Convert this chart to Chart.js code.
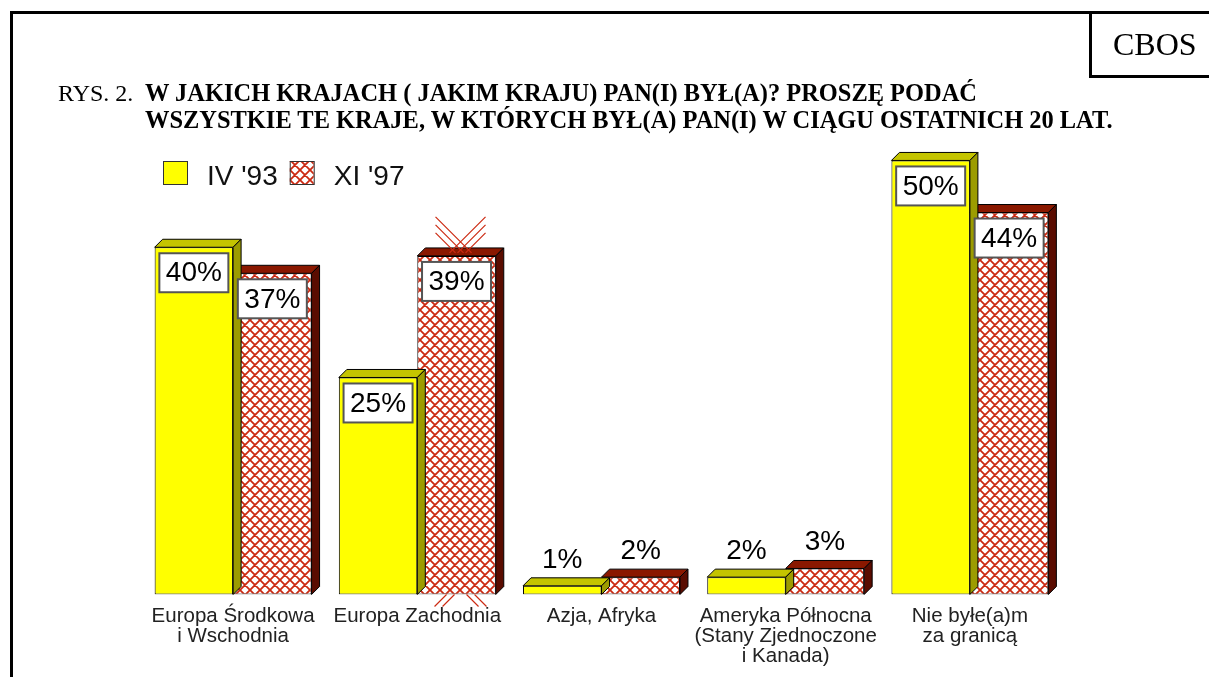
<!DOCTYPE html>
<html lang="pl">
<head>
<meta charset="utf-8">
<title>CBOS - Rys. 2</title>
<script src="https://cdn.jsdelivr.net/npm/chart.js@4.4.1/dist/chart.umd.min.js"></script>
<style>
  html, body { margin: 0; padding: 0; background: #fff; }
  #wrap { position: relative; width: 1209px; height: 677px; overflow: hidden; }
  #wrap canvas { position: absolute; left: 0; top: 0; }
  .line { position: absolute; background: #000; }
  .serif { position: absolute; font-family: "Liberation Serif", "Times New Roman", serif; color: #000; white-space: nowrap; }
</style>
</head>
<body>
<div id="wrap">
  <canvas id="wykres" width="1209" height="677"></canvas>
  <!-- ramka -->
  <div class="line" style="left:10px; top:11px; width:1199px; height:2.5px"></div>
  <div class="line" style="left:10px; top:11px; width:2.5px; height:666px"></div>
  <div class="line" style="left:1089px; top:11px; width:2.5px; height:66px"></div>
  <div class="line" style="left:1089px; top:75px; width:120px; height:2.5px"></div>
  <div class="serif" style="left:1113px; top:28px; font-size:32px; line-height:32px">CBOS</div>
  <div class="serif" style="left:58px; top:81px; font-size:24px; line-height:24px">RYS. 2.</div>
  <div class="serif" style="left:145px; top:79px; font-size:24.45px; line-height:27px; font-weight:bold">W JAKICH KRAJACH ( JAKIM KRAJU) PAN(I) BYŁ(A)? PROSZĘ PODAĆ<br>WSZYSTKIE TE KRAJE, W KTÓRYCH BYŁ(A) PAN(I) W CIĄGU OSTATNICH 20 LAT.</div>
</div>
<script>
// dane
const kategorie = [
  ['Europa Środkowa', 'i Wschodnia'],
  'Europa Zachodnia',
  'Azja, Afryka',
  ['Ameryka Północna', '(Stany Zjednoczone', 'i Kanada)'],
  ['Nie byłe(a)m', 'za granicą']
];
const serie = ["IV '93", "XI '97"];
const wartosci93 = [40, 25, 1, 2, 50];
const wartosci97 = [37, 39, 2, 3, 44];

const FONT = '"Liberation Sans", Arial, sans-serif';
const GLEBOKOSC = 8; // glebokosc efektu 3D
const KRESKA = '#cc2a12';

// kratka (wzor dla XI '97)
function kratka() {
  const c = document.createElement('canvas');
  c.width = 10; c.height = 10;
  const g = c.getContext('2d');
  g.fillStyle = '#fff';
  g.fillRect(0, 0, 10, 10);
  g.strokeStyle = KRESKA;
  g.lineWidth = 1.8;
  g.beginPath();
  g.moveTo(-2, -2); g.lineTo(12, 12);
  g.moveTo(12, -2); g.lineTo(-2, 12);
  g.moveTo(-2, 8); g.lineTo(2, 12);
  g.moveTo(8, -2); g.lineTo(12, 2);
  g.moveTo(-2, 2); g.lineTo(2, -2);
  g.moveTo(8, 12); g.lineTo(12, 8);
  g.stroke();
  return g.createPattern(c, 'repeat');
}

const sciany = [
  { gora: '#c4c400', bok: '#9c9c00' },
  { gora: '#8a1800', bok: '#5a0c00' }
];

// gorna i boczna sciana slupka
const bryla = {
  id: 'bryla',
  afterDatasetDraw(chart, args) {
    const ctx = chart.ctx;
    const kol = sciany[args.index];
    const d = GLEBOKOSC;
    ctx.save();
    ctx.strokeStyle = '#000';
    ctx.lineWidth = 1;
    args.meta.data.forEach(bar => {
      const l = bar.x - bar.width / 2, r = bar.x + bar.width / 2, t = bar.y, b = bar.base;
      ctx.beginPath();
      ctx.moveTo(l, t); ctx.lineTo(l + d, t - d); ctx.lineTo(r + d, t - d); ctx.lineTo(r, t);
      ctx.closePath();
      ctx.fillStyle = kol.gora; ctx.fill(); ctx.stroke();
      ctx.beginPath();
      ctx.moveTo(r, t); ctx.lineTo(r + d, t - d); ctx.lineTo(r + d, b - d); ctx.lineTo(r, b);
      ctx.closePath();
      ctx.fillStyle = kol.bok; ctx.fill(); ctx.stroke();
    });
    // slad wzoru wystajacy poza slupek (jak w oryginale, przy 39%)
    if (args.index === 1) {
      const bar = args.meta.data[1];
      const cx = bar.x + d / 2, t = bar.y, b = bar.base;
      ctx.strokeStyle = KRESKA;
      ctx.lineWidth = 1.2;
      ctx.beginPath();
      for (let k = 0; k < 3; k++) {
        const y0 = t - 39 + 8 * k, len = 36 - 8 * k;
        ctx.moveTo(cx - 25, y0); ctx.lineTo(cx - 25 + len, y0 + len);
        ctx.moveTo(cx + 25, y0); ctx.lineTo(cx + 25 - len, y0 + len);
      }
      for (let k = 0; k < 2; k++) {
        ctx.moveTo(cx - 26 + 8 * k, b + 12); ctx.lineTo(cx - 14 + 8 * k, b);
        ctx.moveTo(cx + 26 - 8 * k, b + 12); ctx.lineTo(cx + 14 - 8 * k, b);
      }
      ctx.stroke();
    }
    ctx.restore();
  }
};

// etykiety z wartosciami i legenda
const etykiety = {
  id: 'etykiety',
  afterDatasetsDraw(chart) {
    const ctx = chart.ctx;
    ctx.save();
    ctx.font = '28px ' + FONT;
    ctx.textAlign = 'center';
    chart.data.datasets.forEach((ds, i) => {
      chart.getDatasetMeta(i).data.forEach((bar, j) => {
        const v = ds.data[j];
        const txt = v + '%';
        if (v >= 10) {
          const bw = 69, bh = 39, bx = bar.x - bw / 2, by = bar.y + 6;
          ctx.fillStyle = '#fff';
          ctx.fillRect(bx, by, bw, bh);
          ctx.strokeStyle = '#555';
          ctx.lineWidth = 2;
          ctx.strokeRect(bx, by, bw, bh);
          ctx.fillStyle = '#000';
          ctx.textBaseline = 'middle';
          ctx.fillText(txt, bar.x, by + bh / 2 + 1);
        } else {
          ctx.fillStyle = '#000';
          ctx.textBaseline = 'alphabetic';
          ctx.fillText(txt, bar.x, bar.y - 18);
        }
      });
    });

    // legenda
    let x = 163;
    const y = 161;
    ctx.textAlign = 'left';
    ctx.textBaseline = 'alphabetic';
    chart.data.datasets.forEach(ds => {
      ctx.fillStyle = ds.backgroundColor;
      ctx.fillRect(x, y, 24, 23);
      ctx.strokeStyle = '#333';
      ctx.lineWidth = 1;
      ctx.strokeRect(x + 0.5, y + 0.5, 24, 23);
      x += 24 + 20;
      ctx.fillStyle = '#111';
      ctx.fillText(ds.label, x, y + 24);
      x += ctx.measureText(ds.label).width + 12;
    });
    ctx.restore();
  }
};

const ctx = document.getElementById('wykres').getContext('2d');
new Chart(ctx, {
  type: 'bar',
  data: {
    labels: kategorie,
    datasets: [
      {
        label: serie[0],
        data: wartosci93,
        backgroundColor: '#ffff00',
        borderColor: '#000',
        borderWidth: 1,
        borderSkipped: false
      },
      {
        label: serie[1],
        data: wartosci97,
        backgroundColor: kratka(),
        borderColor: '#000',
        borderWidth: 1,
        borderSkipped: false
      }
    ]
  },
  options: {
    responsive: false,
    animation: false,
    layout: { padding: { left: 141, right: 147, top: 137, bottom: 0 } },
    datasets: { bar: { categoryPercentage: 0.852, barPercentage: 1 } },
    plugins: {
      legend: { display: false },
      tooltip: { enabled: false }
    },
    scales: {
      x: {
        grid: { display: false, drawTicks: false },
        border: { display: false },
        ticks: {
          color: '#222',
          padding: 12,
          maxRotation: 0,
          autoSkip: false,
          font: { family: FONT, size: 20.5, lineHeight: 0.98 }
        },
        afterFit(scale) { scale.height = 82.5; }
      },
      y: { display: false, min: 0, max: 52.7 }
    }
  },
  plugins: [bryla, etykiety]
});
</script>
</body>
</html>
